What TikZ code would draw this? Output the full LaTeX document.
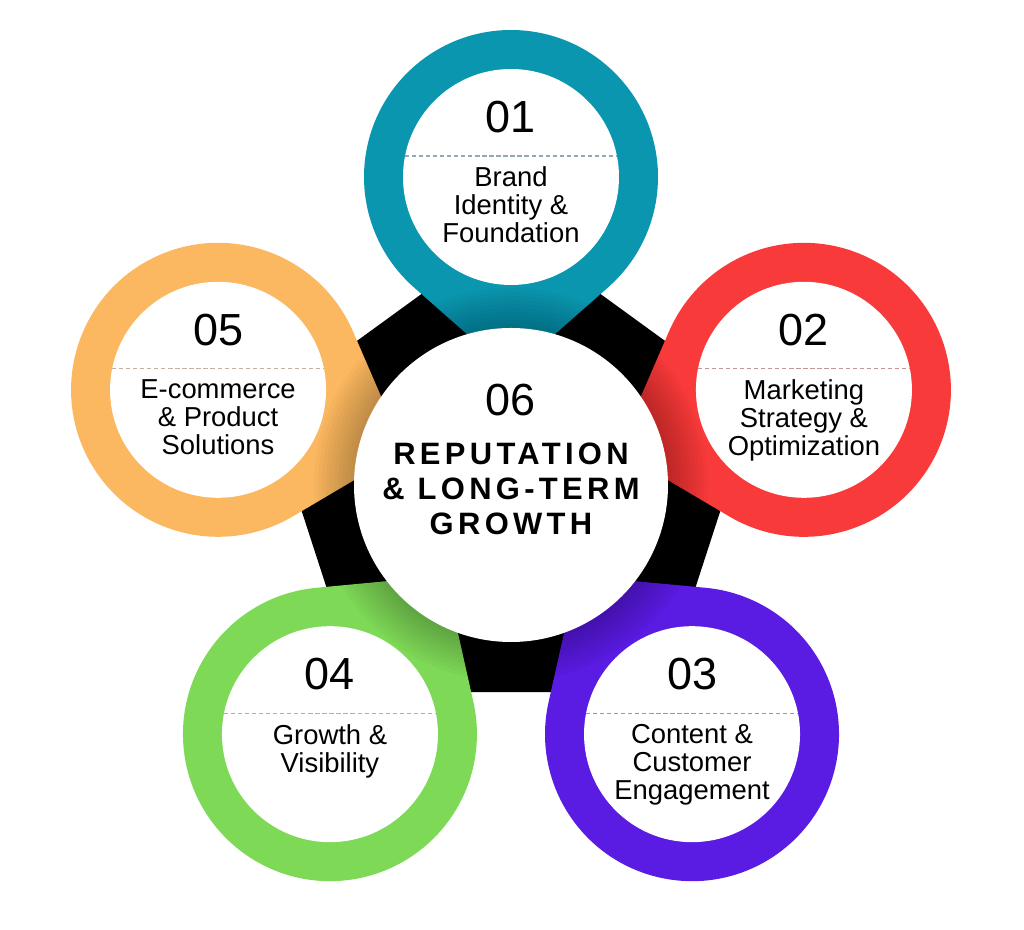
\documentclass[tikz,border=0pt]{standalone}
\usepackage{fontspec}
\setmainfont{Liberation Sans}
\newfontfamily\widefont[LetterSpace=14]{Liberation Sans}
\usetikzlibrary{calc}

\definecolor{stepteal}{HTML}{0B96B0}
\definecolor{stepred}{HTML}{F83A3A}
\definecolor{steppurple}{HTML}{5A1BE3}
\definecolor{stepgreen}{HTML}{7ED957}
\definecolor{steporange}{HTML}{FBB860}

\tikzset{
  numtext/.style={font=\fontsize{32}{32}\selectfont, inner sep=0pt},
  steptext/.style={font=\fontsize{19.5}{19.9}\selectfont, align=center, anchor=north, inner sep=0pt},
  titletext/.style={font=\widefont\bfseries\fontsize{22}{25}\selectfont, align=center, inner sep=0pt},
  divider/.style={line width=0.8pt, dash pattern=on 3pt off 2pt}
}

\begin{document}
\begin{tikzpicture}
\fill[white] (-12.775,-11.125) rectangle (12.825,12.125);
\useasboundingbox (-12.775,-11.125) rectangle (12.825,12.125);

% Black pentagon behind everything
\fill[black] (90:6.4) -- (162:6.4) -- (234:6.4) -- (306:6.4) -- (18:6.4) -- cycle;

% Rings with tails pointing to the hub
\foreach \ang/\col/\ring/\num/\txt in {
    90/stepteal/c1/01/{Brand\\Identity \&\\Foundation},
    18/stepred/c2/02/{Marketing\\Strategy \&\\Optimization},
    -54/steppurple/c3/03/{Content \&\\Customer\\Engagement},
    -126/stepgreen/c4/04/{Growth \&\\Visibility},
    162/steporange/c5/05/{E-commerce\\\& Product\\Solutions}} {
  \coordinate (\ring) at (\ang:7.7);
  \fill[\col] (\ring) ++(\ang+221.4:3.675) arc[start angle=\ang+221.4, delta angle=277.2, radius=3.675] -- (\ang:2.8) -- cycle;
  \fill[white] (\ring) circle (2.7);
  \node[numtext] (n-\ring) at ($(\ring)+(0,1.5)$) {\num};
  \draw[divider, \col!30!gray!70] ($(\ring)+(-2.65,0.525)$) -- ++(5.3,0);
  \node[steptext] (t-\ring) at ($(\ring)+(0,0.255)$) {\txt};
}

% Soft shadow round the hub
\foreach \k in {1,...,10}
  \fill[black, opacity=0.022] (0,0) circle (3.925+0.1*\k);

% Hub
\node[circle, fill=white, minimum size=7.85cm, inner sep=0pt] (hub) at (0,0) {};
\node[numtext] (n-hub) at (0,2.125) {06};
\node[titletext] (t-hub) at (0,-0.1) {REPUTATION\\\& LONG-TERM\\GROWTH};
\end{tikzpicture}
\end{document}
